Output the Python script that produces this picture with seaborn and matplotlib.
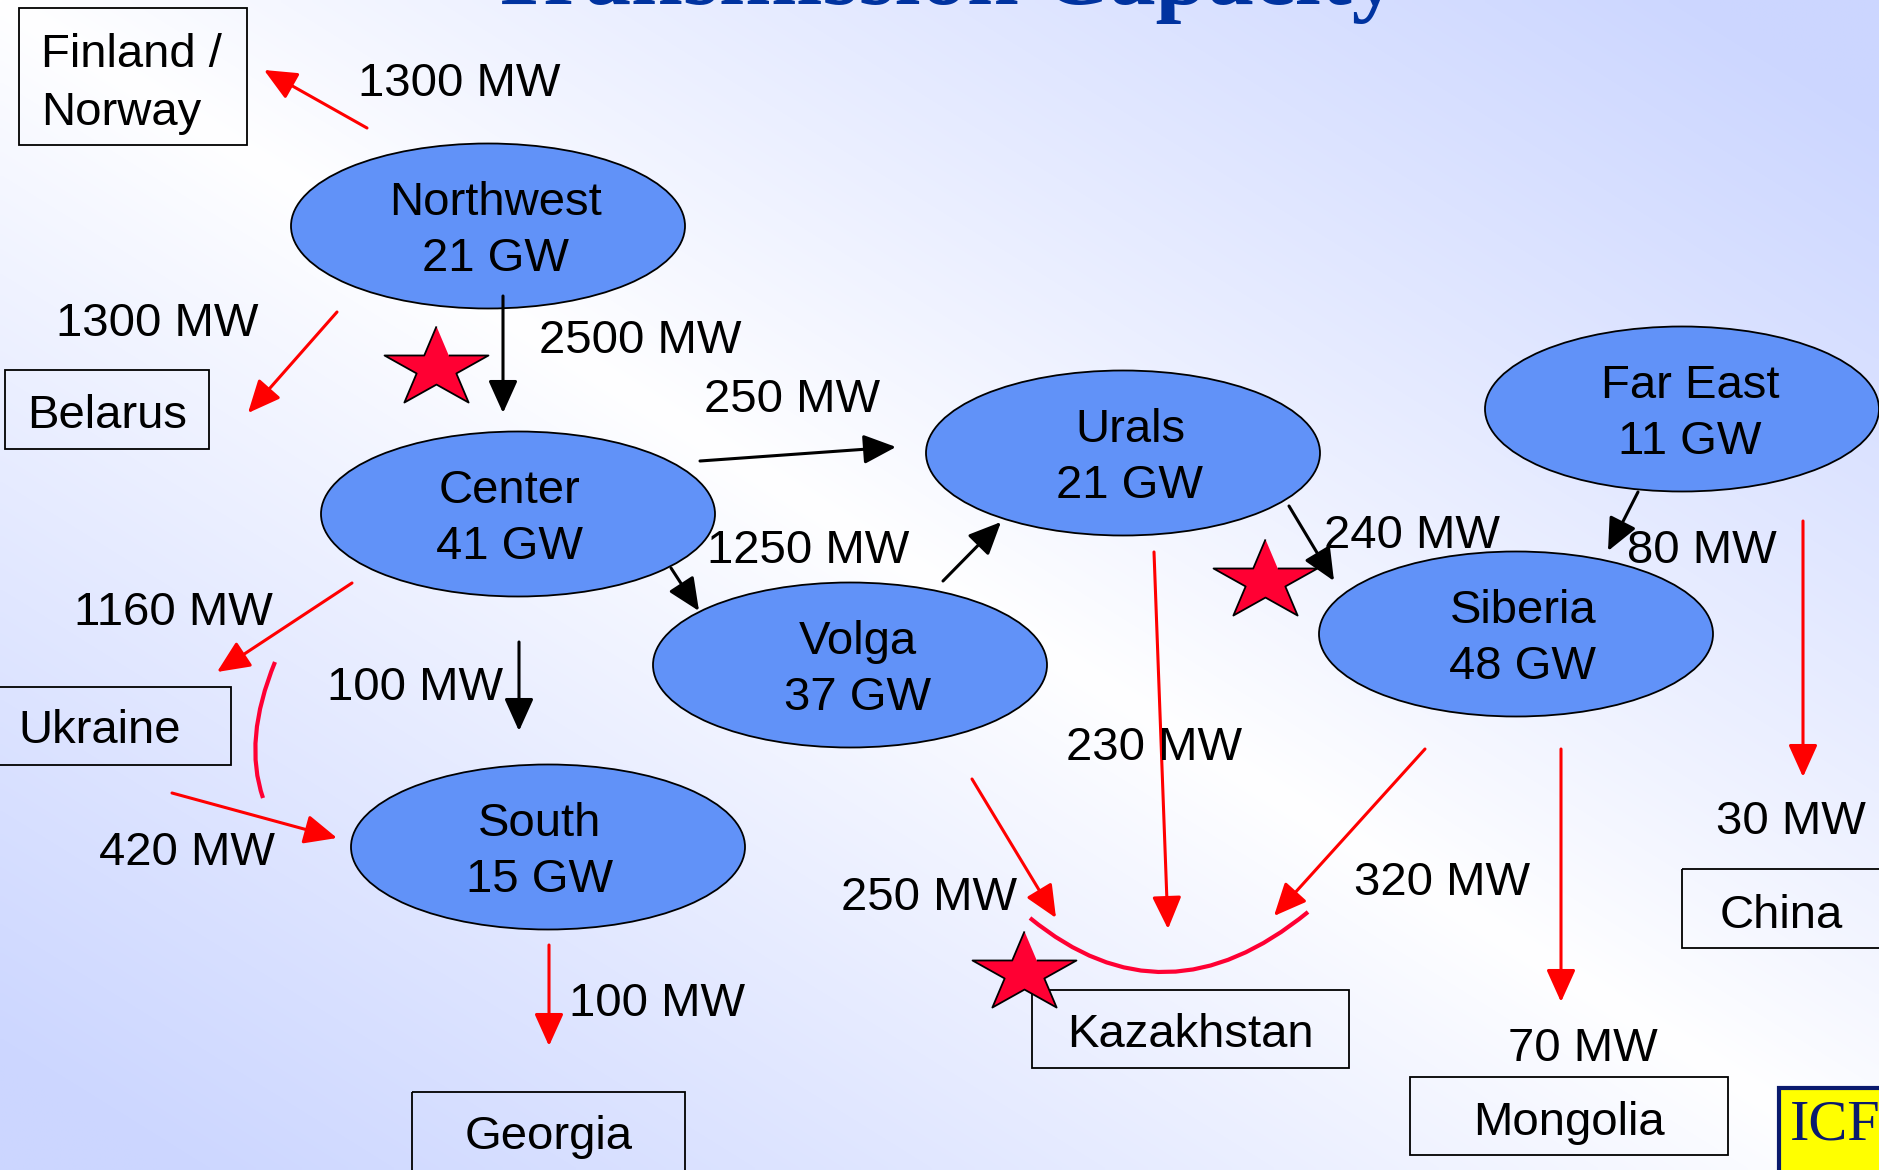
import numpy as np
import pandas as pd
import matplotlib
matplotlib.use("Agg")
import matplotlib.pyplot as plt
import seaborn as sns
from matplotlib.patches import Ellipse, Rectangle, PathPatch
from matplotlib.path import Path

# ======================
# DATA
# ======================
regions = ["Northwest", "Center", "Volga", "South", "Urals", "Siberia", "Far East"]
capacity_gw = [21, 41, 37, 15, 21, 48, 11]
neighbors = ["Finland /\nNorway", "Belarus", "Ukraine", "Georgia", "Kazakhstan", "Mongolia", "China"]

# internal links (black) and export links (red), MW
internal_mw = [2500, 250, 1250, None, 240, 100, 80]
export_mw = [1300, 1300, 1160, 420, 100, 250, 230, 320, 70, 30]

# ======================
# LAYOUT (pixel coords, y down)
# ======================
W, H = 1879, 1170
ell_xy = [(488, 226), (518, 514), (850, 665), (548, 847), (1123, 453), (1516, 634), (1682, 409)]
ell_text_x = [496, 510, 858, 540, 1130, 1523, 1690]
ELL_W, ELL_H = 394, 165

box_rect = [(19, 8, 247, 145), (5, 370, 209, 449), (-3, 687, 231, 765), (412, 1092, 685, 1185),
            (1032, 990, 1349, 1068), (1410, 1077, 1728, 1155), (1682, 869, 1890, 948)]
box_text = [(41, 79, "left"), (107, 411, "center"), (18, 726, "left"), (549, 1132, "center"),
            (1190, 1030, "center"), (1569, 1118, "center"), (1781, 911, "center")]

internal_arrows = [((503, 296), (503, 413)), ((700, 461), (896, 447)), ((671, 568), (699, 611)),
                   ((943, 581), (1001, 522)), ((1289, 506), (1334, 581)), ((519, 642), (519, 731)),
                   ((1638, 492), (1608, 551))]
internal_lbl = [(640, 336), (792, 395), (808, 546), None, (1412, 531), (415, 683), (1702, 546)]

export_arrows = [((367, 128), (264, 70)), ((337, 312), (248, 413)), ((352, 583), (217, 672)),
                 ((172, 793), (337, 838)), ((549, 945), (549, 1046)), ((972, 779), (1056, 918)),
                 ((1154, 552), (1168, 929)), ((1425, 749), (1274, 916)), ((1561, 749), (1561, 1002)),
                 ((1803, 521), (1803, 777))]
export_lbl = [(459, 79), (157, 319), (173, 608), (187, 848), (657, 999), (929, 893),
              (1154, 743), (1442, 878), (1583, 1044), (1791, 817)]

# bottleneck stars
stars = pd.DataFrame({"x": [436, 1265, 1024], "y": [368, 581, 973]})

# constraint arcs (start, control, end)
arcs = [((275, 662), (243, 740), (263, 798)), ((1030, 918), (1165, 1029), (1308, 912))]

BLUE = "#6192F8"
RED = "#FF0000"
CRIMSON = "#FF0033"
NAVY = "#0A1A6E"
FS = 34

# ======================
# FIGURE
# ======================
sns.set_theme(style="white")
plt.rcParams["font.family"] = ["Liberation Sans", "DejaVu Sans"]
plt.rcParams["text.color"] = "black"

fig = plt.figure(figsize=(W / 100, H / 100), dpi=100)
ax = fig.add_axes([0, 0, 1, 1])
ax.set_xlim(0, W)
ax.set_ylim(H, 0)
ax.axis("off")

# background: white along main diagonal, lavender towards TR / BL corners
gx, gy = np.meshgrid(np.linspace(0, 1, 400), np.linspace(0, 1, 250))
t = np.clip(np.abs(gx - gy) * 1.1, 0, 1) ** 0.9
lav = np.array([0.80, 0.84, 1.0])
bg = (1 - t)[..., None] * np.ones(3) + t[..., None] * lav
ax.imshow(bg, extent=(0, W, H, 0), aspect="auto", zorder=0, interpolation="bilinear")

# title (mostly cut off at top, as in the slide)
ax.text(943, 4, "Transmission Capacity", ha="center", va="baseline", fontsize=67,
        fontweight="bold", color="#0033A0", family=["Liberation Serif", "DejaVu Serif"], zorder=6)

# region ellipses
for name, gw, (cx, cy), tx in zip(regions, capacity_gw, ell_xy, ell_text_x):
    ax.add_patch(Ellipse((cx, cy), ELL_W, ELL_H, facecolor=BLUE, edgecolor="black", lw=1.3, zorder=2))
    ax.text(tx, cy - 28, name, ha="center", va="center_baseline", fontsize=FS, zorder=3)
    ax.text(tx, cy + 28, f"{gw} GW", ha="center", va="center_baseline", fontsize=FS, zorder=3)

# neighbour boxes
for name, (x0, y0, x1, y1), (tx, ty, ha) in zip(neighbors, box_rect, box_text):
    ax.add_patch(Rectangle((x0, y0), x1 - x0, y1 - y0, fill=False, edgecolor="black", lw=1.3, zorder=2))
    if "\n" in name:
        for i, line in enumerate(name.split("\n")):
            ax.text(tx, ty - 29 + 58 * i, line, ha=ha, va="center_baseline", fontsize=FS, zorder=3)
    else:
        ax.text(tx, ty, name, ha=ha, va="center_baseline", fontsize=FS, zorder=3)


def arrow(p0, p1, color):
    ax.annotate("", xy=p1, xytext=p0, zorder=4,
                arrowprops=dict(arrowstyle="-|>,head_length=1.0,head_width=0.45",
                                mutation_scale=20, color=color, lw=2.2,
                                shrinkA=0, shrinkB=0))


for (p0, p1), mw, pos in zip(internal_arrows, internal_mw, internal_lbl):
    arrow(p0, p1, "black")
    if mw is not None:
        ax.text(pos[0], pos[1], f"{mw} MW", ha="center", va="center_baseline", fontsize=FS, zorder=5)

for (p0, p1), mw, pos in zip(export_arrows, export_mw, export_lbl):
    arrow(p0, p1, RED)
    ax.text(pos[0], pos[1], f"{mw} MW", ha="center", va="center_baseline", fontsize=FS, zorder=5)

for p0, c, p1 in arcs:
    path = Path([p0, c, p1], [Path.MOVETO, Path.CURVE3, Path.CURVE3])
    ax.add_patch(PathPatch(path, fill=False, edgecolor=CRIMSON, lw=3.0, zorder=4, capstyle="butt"))

# squashed five-point star marker
ang = np.deg2rad(90 + 36 * np.arange(10))
rad = np.where(np.arange(10) % 2 == 0, 1.0, 0.382)
star_verts = list(zip(rad * np.cos(ang), 0.77 * rad * np.sin(ang)))
sns.scatterplot(data=stars, x="x", y="y", marker=star_verts, s=5600, color=CRIMSON,
                edgecolor="black", linewidth=1.3, ax=ax, legend=False, zorder=6)

# logo corner
ax.add_patch(Rectangle((1779, 1088), 110, 90, facecolor="#FFFF00", edgecolor=NAVY, lw=3, zorder=6))
ax.text(1790, 1126, "ICF", ha="left", va="center", fontsize=42, color=NAVY,
        family=["Liberation Serif", "DejaVu Serif"], zorder=7)

ax.set_xlim(0, W)
ax.set_ylim(H, 0)
fig.savefig("out.png", dpi=100)
plt.close(fig)
